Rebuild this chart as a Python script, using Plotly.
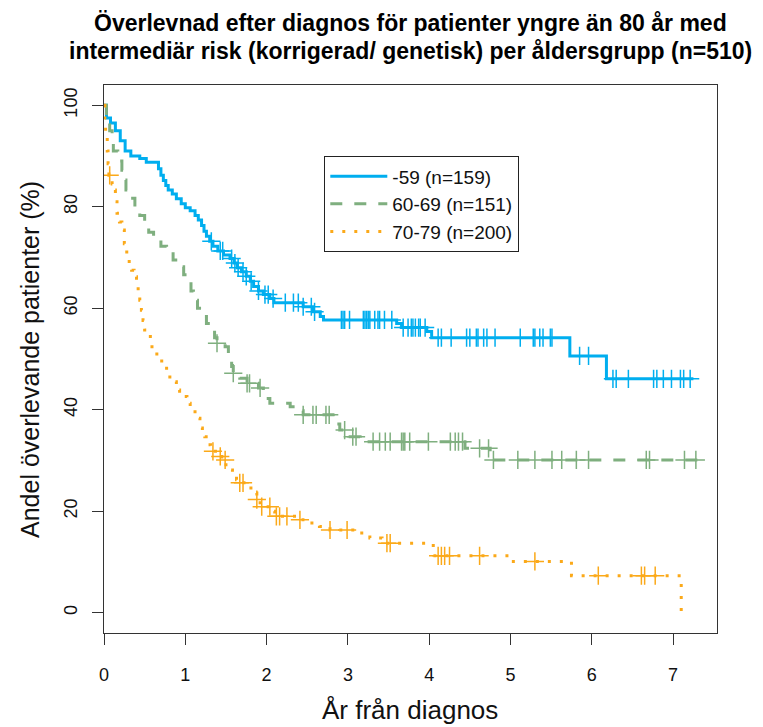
import plotly.graph_objects as go
import bisect

# ---- data ----
series_names = ["-59 (n=159)", "60-69 (n=151)", "70-79 (n=200)"]

blue_t = [0, 0.03, 0.08, 0.14, 0.20, 0.26, 0.33, 0.44, 0.52, 0.67, 0.70, 0.73, 0.76, 0.79, 0.84,
          0.89, 0.95, 1.00, 1.06, 1.12, 1.16, 1.20, 1.23, 1.26, 1.30, 1.34, 1.40, 1.47, 1.55,
          1.60, 1.64, 1.69, 1.75, 1.80, 1.84, 1.90, 1.96, 2.04, 2.09, 2.45, 2.57, 2.66, 2.70,
          3.60, 3.66, 3.97, 4.03, 5.73, 6.18]
blue_s = [100, 97.5, 96.5, 95, 93, 91, 90, 89.5, 88.8, 87.5, 86.2, 85.2, 84.2, 83.3, 82.5,
          81.6, 80.6, 79.8, 79.2, 78.3, 77.4, 76.3, 75.2, 74.2, 73.2, 72.2, 71.3, 70.5, 69.8,
          68.9, 68.0, 67.2, 66.3, 65.3, 64.3, 63.4, 62.7, 61.9, 61.1, 60.3, 59.3, 58.4, 57.7,
          57.0, 56.2, 55.4, 54.2, 50.6, 46.1]
blue_cens = [1.32, 1.43, 1.46, 1.57, 1.61, 1.65, 1.71, 1.75, 1.81, 1.90, 1.98, 2.02, 2.08, 2.23,
             2.33, 2.39, 2.45, 2.55, 2.59, 2.92, 2.94, 2.96, 3.02, 3.19, 3.21, 3.23, 3.25, 3.27,
             3.33, 3.37, 3.39, 3.45, 3.54, 3.68, 3.74, 3.78, 3.80, 3.83, 3.87, 3.89, 3.95, 4.11,
             4.15, 4.27, 4.46, 4.50, 4.58, 4.60, 4.67, 4.71, 4.81, 5.12, 5.28, 5.30, 5.36, 5.40,
             5.49, 5.51, 5.85, 5.96, 6.26, 6.30, 6.45, 6.76, 6.80, 6.88, 6.98, 7.09, 7.13, 7.21]
blue_end = 7.25

green_t = [0, 0.03, 0.05, 0.07, 0.10, 0.115, 0.17, 0.22, 0.25, 0.27, 0.33, 0.38, 0.44, 0.50,
           0.55, 0.61, 0.70, 0.77, 0.85, 0.91, 0.98, 1.04, 1.07, 1.10, 1.15, 1.20, 1.26, 1.32,
           1.36, 1.39, 1.49, 1.53, 1.55, 1.57, 1.59, 1.67, 1.76, 1.90, 1.96, 2.00, 2.04, 2.29,
           2.40, 2.45, 2.84, 2.90, 2.99, 3.15, 4.44, 4.75]
green_s = [100, 98.4, 96.7, 95, 93, 91, 89, 87.2, 85.3, 83.3, 81.7, 80, 78.3, 76.7,
           75, 73.4, 72.2, 71.1, 69.5, 68.2, 66.6, 65.2, 63.4, 61.6, 60, 58.4, 57, 55.7,
           54.2, 53.1, 52.4, 51, 49.8, 48.5, 47.2, 46.2, 45.2, 44.3, 43.2, 42.2, 41.3, 40.6,
           39.8, 39.0, 37.2, 36.0, 34.7, 33.7, 32.4, 30.1]
green_cens = [1.39, 1.59, 1.76, 1.79, 1.92, 2.45, 2.57, 2.61, 2.73, 2.77, 2.96, 3.06, 3.10,
              3.31, 3.39, 3.46, 3.52, 3.66, 3.68, 3.70, 3.76, 3.99, 4.26, 4.32, 4.36, 4.41,
              4.62, 4.73, 4.79, 5.09, 5.30, 5.51, 5.63, 5.81, 5.96, 6.67, 6.71, 7.14, 7.28]
green_end = 7.33

orange_t = [0, 0.01, 0.02, 0.04, 0.05, 0.06, 0.10, 0.115, 0.14, 0.16, 0.19, 0.22, 0.25, 0.28,
            0.31, 0.34, 0.37, 0.40, 0.42, 0.44, 0.46, 0.48, 0.50, 0.57, 0.59, 0.65, 0.71, 0.77,
            0.81, 0.89, 0.93, 1.02, 1.06, 1.14, 1.18, 1.21, 1.24, 1.28, 1.31, 1.34, 1.40, 1.45,
            1.50, 1.53, 1.58, 1.63, 1.67, 1.76, 1.84, 1.88, 1.92, 2.05, 2.10, 2.41, 2.49, 2.65,
            2.78, 3.15, 3.27, 3.42, 4.05, 4.99, 5.75, 7.10]
orange_s = [100, 97, 94, 91, 88.5, 86.2, 84.5, 83.3, 81, 78.7, 77, 75.4, 72.7, 70.1,
            68.8, 67.5, 66.2, 64.9, 63.2, 61.6, 59.6, 57.6, 55.7, 54.1, 52.1, 50.4, 48.8, 47.2,
            45.5, 43.9, 42.6, 41.3, 39.6, 38.3, 36.4, 35.5, 34.7, 33.1, 32.4, 31.8, 30.8, 30.1,
            28.8, 28.1, 27.1, 26.2, 25.6, 24.6, 23.6, 22.3, 20.9, 20.0, 19.0, 18.3, 17.7, 17.0,
            16.3, 15.7, 14.7, 13.7, 11.2, 10.1, 7.3, 0]
orange_cens = [0.07, 1.34, 1.43, 1.49, 1.67, 1.71, 1.88, 1.94, 2.04, 2.12, 2.16, 2.25, 2.41,
               2.78, 2.99, 3.48, 3.52, 4.11, 4.15, 4.19, 4.25, 4.62, 5.30, 6.08, 6.61, 6.65, 6.78]
orange_end = 7.10

x_ticks = [0, 1, 2, 3, 4, 5, 6, 7]
y_ticks = [0, 20, 40, 60, 80, 100]

title_lines = ["Överlevnad efter diagnos för patienter yngre än 80 år med",
               "intermediär risk (korrigerad/ genetisk) per åldersgrupp (n=510)"]
x_title = "År från diagnos"
y_title = "Andel överlevande patienter (%)"

colors = ["#00AEEF", "#7FAF7F", "#FBA919"]
dashes = ["solid", "12px,12px", "3px,9px"]

# ---- helpers ----
def step_value(ts, ss, c):
    i = bisect.bisect_right(ts, c) - 1
    return ss[max(i, 0)]

fig = go.Figure()
groups = [(blue_t, blue_s, blue_cens, blue_end),
          (green_t, green_s, green_cens, green_end),
          (orange_t, orange_s, orange_cens, orange_end)]

for k, (ts, ss, cs, end) in enumerate(groups):
    xs = list(ts)
    ys = list(ss)
    if end > xs[-1]:
        xs.append(end)
        ys.append(ys[-1])
    fig.add_trace(go.Scatter(x=xs, y=ys, mode="lines", line_shape="hv",
                             name=series_names[k],
                             line=dict(color=colors[k], width=3, dash=dashes[k])))
for k, (ts, ss, cs, end) in enumerate(groups):
    fig.add_trace(go.Scatter(x=cs, y=[step_value(ts, ss, c) for c in cs], mode="markers",
                             showlegend=False, hoverinfo="skip",
                             marker=dict(symbol="cross-thin", size=13, color=colors[k],
                                         line=dict(color=colors[k], width=1.5))))

# page has an 8px body margin; figure coordinates = page coordinates - 8
OFF = 8
W, H = 763 - OFF, 727 - OFF
L = 104 - OFF
T = 85 - OFF
R = W - (717 - OFF)
B = H - (633 - OFF)
pw, ph = W - L - R, H - T - B

def px_x(p):
    return (p - OFF - L) / pw

def px_y(p):
    return (H - B - (p - OFF)) / ph

font_fam = "Liberation Sans, Arial, sans-serif"

annotations = [
    dict(text="<b>%s</b>" % title_lines[0], x=px_x(411), y=px_y(23), xref="paper", yref="paper",
         showarrow=False, xanchor="center", yanchor="middle", font=dict(size=23, color="#000")),
    dict(text="<b>%s</b>" % title_lines[1], x=px_x(410), y=px_y(51), xref="paper", yref="paper",
         showarrow=False, xanchor="center", yanchor="middle", font=dict(size=23, color="#000")),
    dict(text=x_title, x=px_x(410), y=px_y(710), xref="paper", yref="paper",
         showarrow=False, xanchor="center", yanchor="middle", font=dict(size=26, color="#111")),
    dict(text=y_title, x=px_x(30), y=px_y(360), xref="paper", yref="paper", textangle=-90,
         showarrow=False, xanchor="center", yanchor="middle", font=dict(size=25, color="#111")),
]

fig.update_layout(
    width=W, height=H,
    margin=dict(l=L, r=R, t=T, b=B, pad=0),
    paper_bgcolor="white", plot_bgcolor="white",
    font=dict(family=font_fam, color="#111"),
    annotations=annotations,
    showlegend=True,
    legend=dict(x=px_x(324), y=px_y(156), xanchor="left", yanchor="top",
                bgcolor="white", bordercolor="#222", borderwidth=1.3,
                font=dict(size=19, color="#111"), itemwidth=57,
                tracegroupgap=0),
    xaxis=dict(range=[0, 7.54], tickmode="array", tickvals=x_ticks,
               ticks="outside", ticklen=11, tickwidth=1.3, tickcolor="#333",
               ticklabelstandoff=14,
               showline=True, linecolor="#333", linewidth=1.3, mirror=True,
               showgrid=False, zeroline=False, tickfont=dict(size=18, color="#111")),
    yaxis=dict(range=[-4, 104], tickmode="array", tickvals=y_ticks,
               ticks="outside", ticklen=11, tickwidth=1.3, tickcolor="#333", tickangle=-90,
               ticklabelstandoff=8,
               showline=True, linecolor="#333", linewidth=1.3, mirror=True,
               showgrid=False, zeroline=False, tickfont=dict(size=18, color="#111")),
)

fig.write_html("out.html")
